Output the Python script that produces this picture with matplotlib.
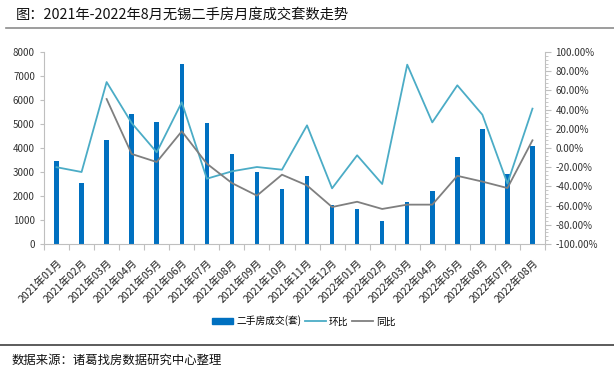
import numpy as np
import matplotlib.pyplot as plt
from matplotlib.lines import Line2D
from matplotlib.patches import Patch
from matplotlib.ticker import MultipleLocator, FuncFormatter

plt.rcParams['font.family'] = ['Noto Sans CJK SC', 'DejaVu Sans']

# ==========================
# DATA
# ==========================
months = ["2021年01月", "2021年02月", "2021年03月", "2021年04月", "2021年05月",
          "2021年06月", "2021年07月", "2021年08月", "2021年09月", "2021年10月",
          "2021年11月", "2021年12月", "2022年01月", "2022年02月", "2022年03月",
          "2022年04月", "2022年05月", "2022年06月", "2022年07月", "2022年08月"]
volume = [3450, 2540, 4320, 5430, 5070, 7480, 5040, 3760, 3000, 2290,
          2850, 1610, 1470, 940, 1750, 2190, 3610, 4810, 2900, 4070]
mom = [-20.0, -25.0, 68.7, 26.0, -4.5, 47.6, -32.0, -24.3, -19.8, -22.6,
       23.6, -42.0, -7.6, -37.5, 86.8, 26.7, 65.3, 34.7, -37.0, 41.0]
yoy = [np.nan, np.nan, 51.0, -6.2, -14.6, 17.4, -16.3, -36.5, -49.6, -27.8,
       -39.0, -61.5, -56.0, -63.5, -59.0, -59.0, -29.0, -35.0, -41.7, 8.0]

bar_color = "#0070C0"
mom_color = "#4BACC6"
yoy_color = "#7F7F7F"

# ==========================
# FIGURE
# ==========================
W, H = 614, 374
fig = plt.figure(figsize=(W / 100, H / 100), dpi=100)

ax = fig.add_axes([44 / W, (H - 244) / H, (545 - 44) / W, 192 / H])
ax2 = ax.twinx()

x = np.arange(len(months))
ax.bar(x, volume, width=0.18, color=bar_color, zorder=2)
ax2.plot(x, mom, color=mom_color, linewidth=1.3, zorder=3)
ax2.plot(x, yoy, color=yoy_color, linewidth=1.3, zorder=3)

ax.set_xlim(-0.5, len(months) - 0.5)
ax.set_ylim(0, 8000)
ax.yaxis.set_major_locator(MultipleLocator(1000))
ax2.set_ylim(-100, 100)
ax2.yaxis.set_major_locator(MultipleLocator(20))
ax2.yaxis.set_minor_locator(MultipleLocator(4))
ax2.yaxis.set_major_formatter(FuncFormatter(lambda v, p: f"{v:.2f}%"))

# x ticks between categories, labels under bars
ax.set_xticks(np.arange(-0.5, len(months), 1.0))
ax.set_xticklabels([])
ax.set_xticks(x, minor=True)
ax.set_xticklabels(months, minor=True, rotation=45, ha="right",
                   rotation_mode="anchor", fontsize=7.6, color="#222222")
ax.tick_params(axis="x", which="major", length=4, color="#BFBFBF")
ax.tick_params(axis="x", which="minor", length=0, pad=10)
ax.tick_params(axis="y", length=3, color="#BFBFBF", labelsize=7,
               labelcolor="#333333")
ax2.tick_params(axis="y", which="major", length=4, color="#BFBFBF",
                labelsize=7, labelcolor="#333333")
ax2.tick_params(axis="y", which="minor", length=2, color="#BFBFBF")

for a in (ax, ax2):
    a.spines["top"].set_visible(False)
    for s in ("left", "right", "bottom"):
        a.spines[s].set_color("#BFBFBF")
ax.spines["right"].set_visible(False)
ax2.spines["left"].set_visible(False)
ax2.spines["bottom"].set_visible(False)

# legend
handles = [Patch(color=bar_color, label="二手房成交(套)"),
           Line2D([], [], color=mom_color, linewidth=1.3, label="环比"),
           Line2D([], [], color=yoy_color, linewidth=1.3, label="同比")]
fig.legend(handles=handles, loc="center", bbox_to_anchor=(304 / W, 1 - 321 / H),
           ncol=3, frameon=False, fontsize=7, handlelength=2.1,
           handleheight=0.5, handletextpad=0.35, columnspacing=0.4)

# title, rules and source
fig.text(16 / W, 1 - 15 / H, "图：2021年-2022年8月无锡二手房月度成交套数走势",
         fontsize=10.3, va="center", ha="left", color="#111111")
fig.add_artist(Line2D([6 / W, 1], [1 - 28 / H, 1 - 28 / H], color="#8C8C8C",
                      linewidth=1.2, transform=fig.transFigure))
fig.add_artist(Line2D([0, 1], [1 - 345 / H, 1 - 345 / H], color="#404040",
                      linewidth=1.2, transform=fig.transFigure))
fig.text(12 / W, 1 - 360 / H, "数据来源：诸葛找房数据研究中心整理",
         fontsize=8.9, va="center", ha="left", color="#111111")

fig.savefig("out.png", dpi=100)
